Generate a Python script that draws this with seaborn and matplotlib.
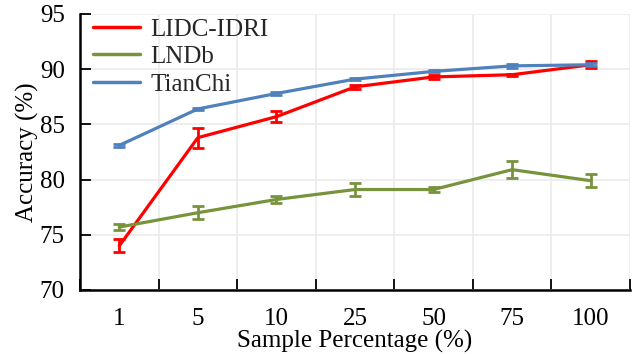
import numpy as np
import pandas as pd
import matplotlib
matplotlib.use("Agg")
import matplotlib.pyplot as plt
import seaborn as sns

# category labels on the x axis
percentages = ["1", "5", "10", "25", "50", "75", "100"]

# mean accuracy (%) per dataset
lidc_acc = [74.0, 83.8, 85.7, 88.4, 89.3, 89.5, 90.4]
lndb_acc = [75.7, 77.0, 78.2, 79.1, 79.1, 80.9, 79.9]
tianchi_acc = [83.1, 86.4, 87.8, 89.1, 89.8, 90.3, 90.4]

# error bar half-widths
lidc_err = [0.6, 0.9, 0.5, 0.2, 0.15, 0.1, 0.3]
lndb_err = [0.3, 0.6, 0.3, 0.6, 0.2, 0.8, 0.6]
tianchi_err = [0.15, 0.1, 0.1, 0.1, 0.1, 0.15, 0.15]

datasets = ["LIDC-IDRI", "LNDb", "TianChi"]
colors = {"LIDC-IDRI": "#FF0000", "LNDb": "#77933C", "TianChi": "#4F81BD"}

# long-form table for seaborn
rows = []
for name, acc, err in zip(datasets, [lidc_acc, lndb_acc, tianchi_acc],
                          [lidc_err, lndb_err, tianchi_err]):
    for i, (a, e) in enumerate(zip(acc, err)):
        rows.append({"pos": i, "pct": percentages[i], "dataset": name,
                     "acc": a, "err": e})
df = pd.DataFrame(rows)

sns.set_theme(style="white")
plt.rcParams["font.family"] = ["Liberation Serif", "DejaVu Serif"]

fig = plt.figure(figsize=(6.36, 3.54), dpi=100)
ax = fig.add_axes([0.1258, 0.1808, 0.8648, 0.7797])

sns.lineplot(data=df, x="pos", y="acc", hue="dataset", hue_order=datasets,
             palette=colors, linewidth=2.3, ax=ax, zorder=3)

# error bars
for name in datasets:
    sub = df[df["dataset"] == name]
    ax.errorbar(sub["pos"], sub["acc"], yerr=sub["err"], fmt="none",
                ecolor=colors[name], elinewidth=2, capsize=4, capthick=2,
                zorder=3)

ax.set_xlim(-0.5, len(percentages) - 0.5)
ax.set_ylim(70, 95)
ax.set_yticks(np.arange(70, 96, 5))
ax.set_xticks(range(len(percentages)))
ax.set_xticklabels(percentages)
ax.set_xticks(np.arange(-0.5, len(percentages), 1.0), minor=True)

# grid
ax.grid(axis="y", which="major", color="#EBEBEB", linewidth=1.2, zorder=0)
ax.grid(axis="x", which="minor", color="#EBEBEB", linewidth=1.2, zorder=0)
ax.grid(axis="x", which="major", visible=False)

for side in ["top", "right"]:
    ax.spines[side].set_visible(False)
for side in ["left", "bottom"]:
    ax.spines[side].set_color("black")
    ax.spines[side].set_linewidth(1.8)

ax.tick_params(axis="x", which="major", length=0, pad=13, labelsize=18,
               colors="black")
ax.tick_params(axis="x", which="minor", direction="in", length=8, width=1.3,
               color="black", bottom=True)
ax.tick_params(axis="y", direction="in", length=8, width=1.3, pad=11,
               labelsize=18, colors="black", left=True)

ax.set_xlabel("Sample Percentage (%)", fontsize=18, color="black")
ax.xaxis.set_label_coords(0.5, -0.145)
ax.set_ylabel("Accuracy (%)", fontsize=18, color="black")
ax.yaxis.set_label_coords(-0.075, 0.5)

leg = ax.legend(loc="upper left", frameon=False, fontsize=18,
                handlelength=1.9, handletextpad=0.4, labelspacing=0.2,
                borderaxespad=0.1, bbox_to_anchor=(0.0, 1.03))
for line in leg.get_lines():
    line.set_linewidth(2.5)

fig.savefig("out.png", dpi=100)
